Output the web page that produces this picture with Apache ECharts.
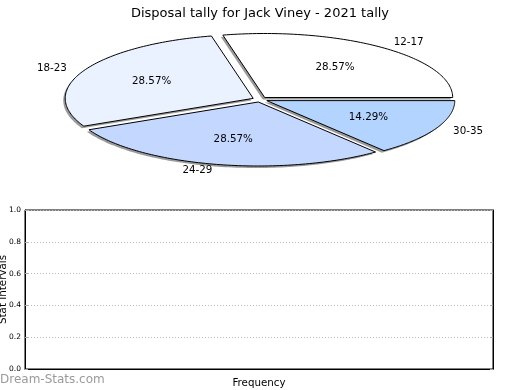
<!DOCTYPE html>
<html><head><meta charset="utf-8">
<script src="https://cdn.jsdelivr.net/npm/echarts@6/dist/echarts.min.js"></script>
<style>html,body{margin:0;padding:0;background:#fff}#c{width:520px;height:390px}</style>
</head><body><div id="c"></div>
<script>
const titleText = 'Disposal tally for Jack Viney - 2021 tally';
const categories = ['12-17', '18-23', '24-29', '30-35'];
const counts = [2, 2, 2, 1];
const yTicks = [0, 0.2, 0.4, 0.6, 0.8, 1.0];
const sliceColors = ['#ffffff', '#eaf1ff', '#c4d8ff', '#b3d4ff'];

const total = counts.reduce((a, b) => a + b, 0);
const PIE = { cx: 260, cy: 99.5, rx: 188, ry: 64, explode: 0.04 };
const FONT = '"DejaVu Sans", sans-serif';

function renderSlice(params, api) {
  const i = params.dataIndex;
  let before = 0;
  for (let k = 0; k < i; k++) before += counts[k];
  const v = api.value(1);
  const a0 = before / total * 2 * Math.PI;
  const a1 = (before + v) / total * 2 * Math.PI;
  const am = (a0 + a1) / 2;
  const ox = PIE.cx + PIE.rx * PIE.explode * Math.cos(am);
  const oy = PIE.cy - PIE.ry * PIE.explode * Math.sin(am);
  const pts = [[ox, oy]];
  const n = 90;
  for (let j = 0; j <= n; j++) {
    const a = a0 + (a1 - a0) * j / n;
    pts.push([ox + PIE.rx * Math.cos(a), oy - PIE.ry * Math.sin(a)]);
  }
  const shadowPts = pts.map(p => [p[0] - 2, p[1] + 2]);
  const lx = ox + 1.1 * PIE.rx * Math.cos(am), ly = oy - 1.1 * PIE.ry * Math.sin(am);
  const px = ox + 0.6 * PIE.rx * Math.cos(am), py = oy - 0.6 * PIE.ry * Math.sin(am);
  const pct = (v / total * 100).toFixed(2) + '%';
  return {
    type: 'group',
    children: [
      { type: 'polygon', z2: 1, shape: { points: shadowPts }, style: { fill: '#9a9a9a', stroke: null } },
      { type: 'polygon', z2: 10, shape: { points: pts }, style: { fill: sliceColors[i], stroke: '#000', lineWidth: 1 } },
      { type: 'text', z2: 20, x: lx, y: ly, style: { text: categories[i], fill: '#000', fontSize: 10.3, fontFamily: FONT, align: Math.cos(am) >= 0 ? 'left' : 'right', verticalAlign: 'middle' } },
      { type: 'text', z2: 20, x: px, y: py, style: { text: pct, fill: '#000', fontSize: 10.3, fontFamily: FONT, align: 'center', verticalAlign: 'middle' } }
    ]
  };
}

const chart = echarts.init(document.getElementById('c'), null, { renderer: 'canvas' });
chart.setOption({
  animation: false,
  backgroundColor: '#fff',
  title: {
    text: titleText, left: 'center', top: 2,
    textStyle: { fontSize: 13, fontWeight: 'normal', fontFamily: FONT, color: '#000' }
  },
  grid: { left: 25, right: 27, top: 210, bottom: 21, show: true, borderColor: '#000', borderWidth: 1, backgroundColor: 'transparent', outerBoundsMode: 'none', containLabel: false },
  xAxis: {
    type: 'value', min: 0, max: 1,
    name: 'Frequency', nameLocation: 'middle', nameGap: 9, nameMoveOverlap: false,
    nameTextStyle: { fontSize: 10.3, fontFamily: FONT, color: '#000' },
    axisLine: { show: true, lineStyle: { color: '#000' } },
    axisTick: { show: false }, axisLabel: { show: false }, splitLine: { show: false }
  },
  yAxis: [{
    type: 'value', min: 0, max: 1, interval: 0.2,
    name: 'Stat Intervals', nameLocation: 'middle', nameGap: 17, nameMoveOverlap: false,
    nameTextStyle: { fontSize: 10.3, fontFamily: FONT, color: '#000' },
    axisLine: { show: true, lineStyle: { color: '#000' } },
    axisTick: { show: true, inside: true, length: 3, lineStyle: { color: '#aaa' } },
    axisLabel: { fontSize: 7.5, fontFamily: FONT, color: '#000', margin: 4, formatter: v => v.toFixed(1) },
    splitLine: { show: true, lineStyle: { color: '#bbb', type: [1, 2], width: 1 } }
  }, {
    type: 'value', min: 0, max: 1, interval: 0.2, position: 'right',
    axisLine: { show: true, lineStyle: { color: '#000' } },
    axisTick: { show: true, inside: true, length: 3, lineStyle: { color: '#aaa' } },
    axisLabel: { show: false }, splitLine: { show: false }
  }],
  graphic: [{
    type: 'text', left: 0, top: 374,
    style: { text: 'Dream-Stats.com', fill: '#9a9a9a', fontSize: 12, fontFamily: FONT }
  }],
  series: [{
    type: 'custom', coordinateSystem: 'none', renderItem: renderSlice,
    data: counts.map((c, i) => [i, c]), silent: true
  }, {
    type: 'line', xAxisIndex: 0, yAxisIndex: 0, data: []
  }]
});
</script></body></html>
